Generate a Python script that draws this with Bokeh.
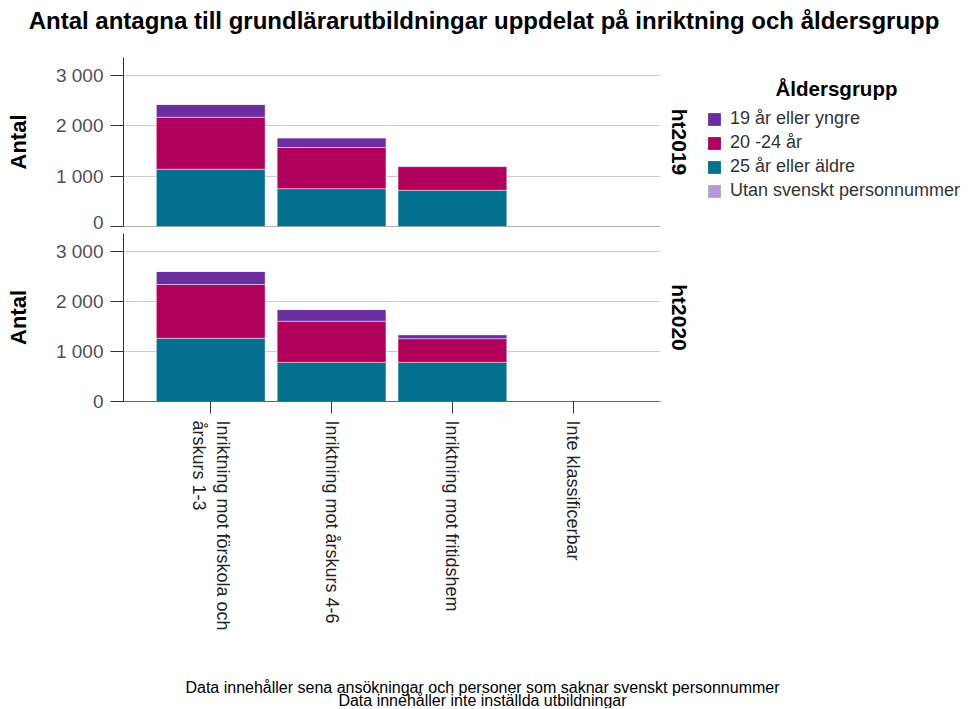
import math
from bokeh.plotting import figure
from bokeh.models import (FactorRange, Range1d, FixedTicker, Legend, LegendItem,
                          Label, ColumnDataSource, Span)
from bokeh.layouts import column, row
from bokeh.embed import file_html
from bokeh.resources import INLINE

# ---------------- data ----------------
categories = ["Inriktning mot förskola och\nårskurs 1-3",
              "Inriktning mot årskurs 4-6",
              "Inriktning mot fritidshem",
              "Inte klassificerbar"]
panels = ["ht2019", "ht2020"]
groups = ["19 år eller yngre", "20 -24 år", "25 år eller äldre", "Utan svenskt personnummer"]
group_colors = ["#6a2ea0", "#b0005b", "#04708f", "#b49bd8"]

ht2019_19 = [255, 192, 12, 0]
ht2019_20_24 = [1030, 816, 471, 0]
ht2019_25 = [1135, 750, 717, 0]
ht2019_utan = [0, 0, 0, 0]

ht2020_19 = [260, 233, 80, 0]
ht2020_20_24 = [1073, 820, 473, 0]
ht2020_25 = [1260, 780, 780, 20]
ht2020_utan = [0, 0, 0, 0]

y_ticks = [0, 1000, 2000, 3000]
y_tick_labels = ["0", "1 000", "2 000", "3 000"]
y_max = 3350

title_text = "Antal antagna till grundlärarutbildningar uppdelat på inriktning och åldersgrupp"
legend_title = "Åldersgrupp"
y_label = "Antal"
footer_lines = ["Data innehåller sena ansökningar och personer som saknar svenskt personnummer",
                "Data innehåller inte inställda utbildningar"]

FONT = "Liberation Sans"
LEFT_W = 665
RIGHT_W = 307
TOTAL_W = LEFT_W + RIGHT_W


def blank_fig(w, h):
    f = figure(width=w, height=h, x_range=Range1d(0, w), y_range=Range1d(0, h),
               output_backend="svg", toolbar_location=None, frame_align=False,
               min_border=0, min_border_left=0, min_border_right=0,
               min_border_top=0, min_border_bottom=0)
    f.axis.visible = False
    f.grid.visible = False
    f.outline_line_color = None
    f.background_fill_color = "white"
    f.border_fill_color = "white"
    return f


def make_panel(height, min_top, min_bottom, v19, v2024, v25, vutan, show_x):
    p = figure(x_range=FactorRange(*categories, range_padding=0.222,
                                   range_padding_units="absolute"),
               y_range=Range1d(0, y_max),
               width=LEFT_W, height=height, frame_align=False,
               output_backend="svg", toolbar_location=None,
               min_border_left=123, min_border_right=LEFT_W - 660,
               min_border_top=min_top, min_border_bottom=min_bottom)
    p.outline_line_color = None
    p.background_fill_color = "white"
    p.border_fill_color = "white"

    src = ColumnDataSource(dict(cat=categories, g25=v25, g2024=v2024, g19=v19, gutan=vutan))
    p.vbar_stack(["g25", "g2024", "g19", "gutan"], x="cat", width=0.9, source=src,
                 fill_color=[group_colors[2], group_colors[1], group_colors[0], group_colors[3]],
                 line_color="white", line_alpha=0.45, line_width=1)

    p.xgrid.visible = False
    p.ygrid.grid_line_color = "#cccccc"
    p.ygrid.grid_line_width = 1

    ya = p.yaxis[0]
    ya.ticker = FixedTicker(ticks=y_ticks)
    ya.major_label_overrides = {t: l for t, l in zip(y_ticks, y_tick_labels)}
    ya.major_tick_out = 13
    ya.major_tick_in = 0
    ya.minor_tick_line_color = None
    ya.major_label_standoff = 7
    ya.major_label_text_font = FONT
    ya.major_label_text_font_size = "19px"
    ya.major_label_text_color = "#505050"
    ya.axis_line_color = "#333333"
    ya.major_tick_line_color = "#333333"
    ya.axis_label = y_label
    ya.axis_label_text_font = FONT
    ya.axis_label_text_font_size = "22px"
    ya.axis_label_text_font_style = "bold"
    ya.axis_label_text_color = "black"
    ya.axis_label_standoff = 22

    xa = p.xaxis[0]
    if show_x:
        xa.axis_line_color = "#666666"
        xa.major_tick_in = 0
        xa.minor_tick_line_color = None
        xa.major_tick_out = 12
        xa.major_tick_line_color = "#333333"
        xa.major_label_standoff = 7
        xa.major_label_orientation = -math.pi / 2
        xa.major_label_text_font = FONT
        xa.major_label_text_font_size = "18px"
        xa.major_label_text_color = "#222222"
    else:
        xa.visible = False
        p.add_layout(Span(location=0, dimension="width", line_color="#666666", line_width=1))
    return p


# ---- title strip (page y 0..40)
H0 = 40
title_fig = blank_fig(TOTAL_W, H0)
title_fig.add_layout(Label(x=483.5, y=H0 - 20, text=title_text,
                           text_align="center", text_baseline="middle",
                           text_font=FONT, text_font_size="24px", text_font_style="bold",
                           text_color="black"))

# ---- top panel (page y 40..232, frame 57..226)
Y1 = 40
H1 = 192
p1 = make_panel(H1, 17, 6, ht2019_19, ht2019_20_24, ht2019_25, ht2019_utan, False)
side1 = blank_fig(RIGHT_W, H1)
side1.add_layout(Label(x=679 - LEFT_W, y=H1 - (141.5 - Y1), text=panels[0],
                       angle=-math.pi / 2, text_align="center", text_baseline="middle",
                       text_font=FONT, text_font_size="21px", text_font_style="bold",
                       text_color="black"))
side1.add_layout(Label(x=836 - LEFT_W, y=H1 - (88 - Y1), text=legend_title,
                       text_align="center", text_baseline="middle",
                       text_font=FONT, text_font_size="20.5px", text_font_style="bold",
                       text_color="black"))
# legend swatch renderers (hidden; they only supply the legend glyphs)
swatches = [side1.vbar(x=list(range(len(categories))), top=vals, width=0.9,
                       fill_color=c, line_color=None, visible=False)
            for c, vals in zip(group_colors, [ht2019_19, ht2019_20_24, ht2019_25, ht2019_utan])]
items = [LegendItem(label=g, renderers=[r]) for g, r in zip(groups, swatches)]
leg = Legend(items=items, location=(706 - LEFT_W, 232 - 201), orientation="vertical",
             glyph_width=16, glyph_height=16, label_height=20, spacing=3,
             label_standoff=8, padding=0, margin=0,
             border_line_alpha=0, background_fill_alpha=0,
             label_text_font=FONT, label_text_font_size="18px",
             label_text_color="#333333", label_text_baseline="middle")
side1.add_layout(leg, "center")

# ---- bottom panel (page y 232..646, frame 233..401)
Y2 = 232
H2 = 414
p2 = make_panel(H2, 1, H2 - 1 - 168, ht2020_19, ht2020_20_24, ht2020_25, ht2020_utan, True)
side2 = blank_fig(RIGHT_W, H2)
side2.add_layout(Label(x=679 - LEFT_W, y=H2 - (317 - Y2), text=panels[1],
                       angle=-math.pi / 2, text_align="center", text_baseline="middle",
                       text_font=FONT, text_font_size="21px", text_font_style="bold",
                       text_color="black"))

# ---- footer (page y 646..708)
Y3 = 646
H3 = 62
foot = blank_fig(TOTAL_W, H3)
for line, ytop in zip(footer_lines, [686.5, 700]):
    foot.add_layout(Label(x=482, y=H3 - (ytop - Y3), text=line,
                          text_align="center", text_baseline="middle",
                          text_font=FONT, text_font_size="16px", text_color="black"))

layout = column(title_fig, row(p1, side1, spacing=0), row(p2, side2, spacing=0), foot, spacing=0)
open("out.html", "w").write(file_html(layout, INLINE))
